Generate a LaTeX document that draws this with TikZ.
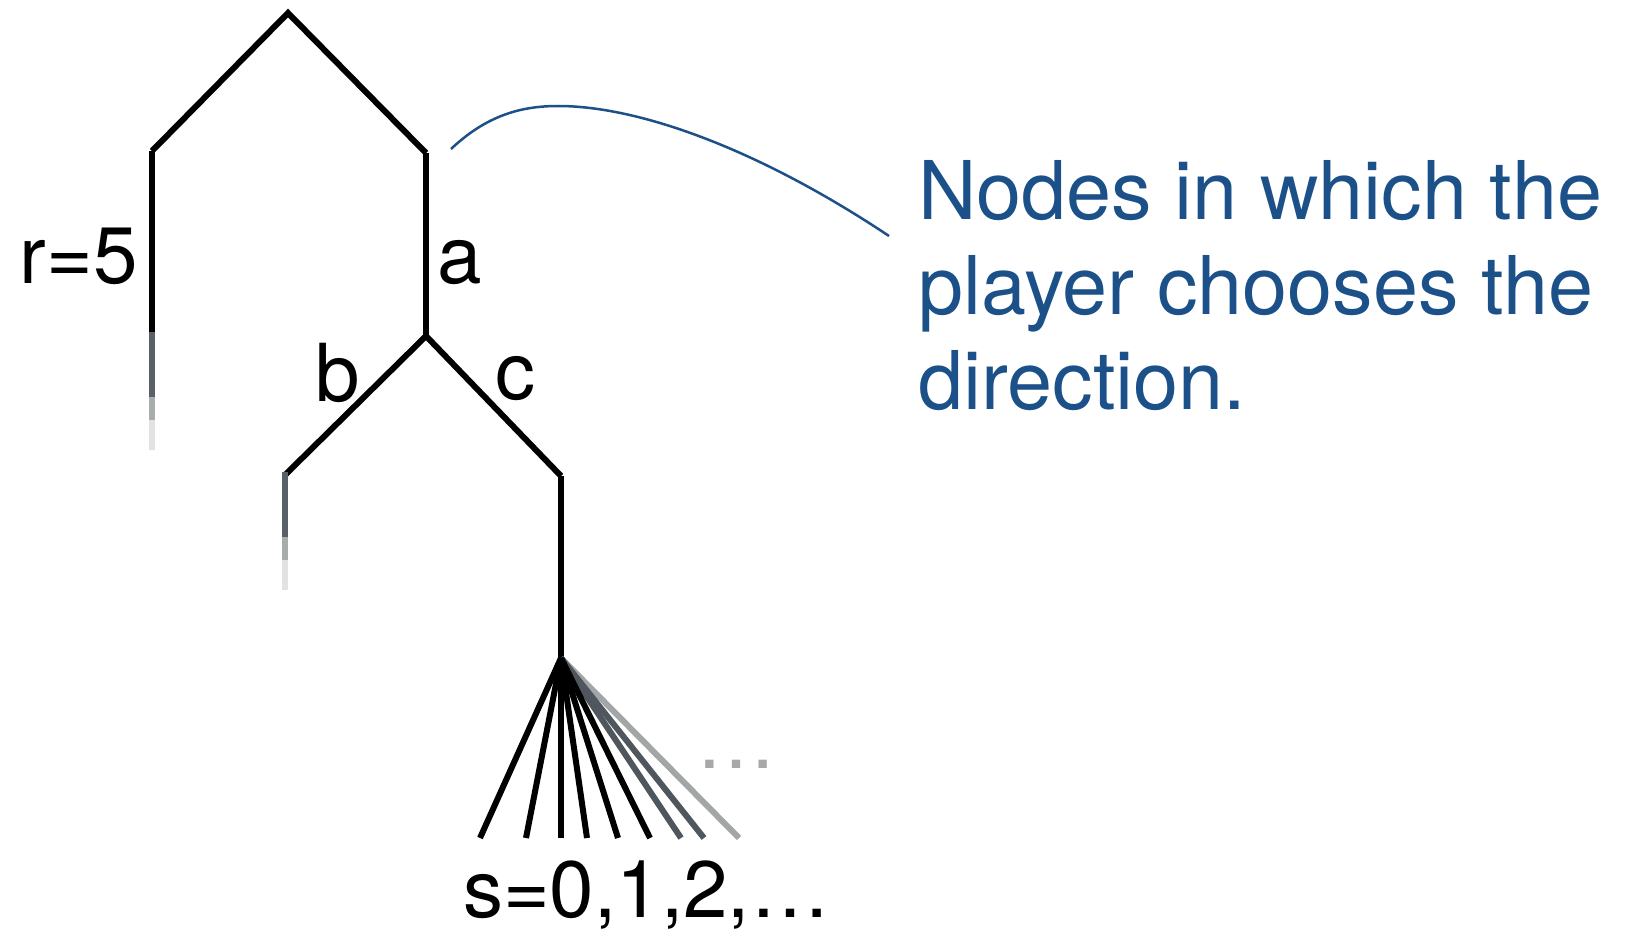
\documentclass[tikz,border=0pt]{standalone}
\usepackage{fontspec}
\setmainfont{TeX Gyre Heros}
\definecolor{callblue}{HTML}{1C5088}
\definecolor{gA}{HTML}{5A6068}
\definecolor{gB}{HTML}{A9ACAC}
\definecolor{gC}{HTML}{E1E2E2}
\definecolor{fanA}{HTML}{4F565E}
\definecolor{fanB}{HTML}{A3A6A6}
\definecolor{dotg}{HTML}{A8A8A8}
\begin{document}
\begin{tikzpicture}[x=1pt,y=-1pt,
  edge/.style={line width=6pt,black,line cap=butt,line join=miter},
  fadeA/.style={line width=6pt,gA},
  fadeB/.style={line width=6pt,gB},
  fadeC/.style={line width=6pt,gC},
  lbl/.style={inner sep=0pt,font=\fontsize{80}{95}\selectfont},
  callout/.style={line width=2.5pt,callblue}]
\useasboundingbox (0,0) rectangle (1633,936);
% tree nodes
\coordinate (R) at (288,13);
\coordinate (L) at (152,151);
\coordinate (A) at (426,153);
\coordinate (L1) at (152,332);
\coordinate (L2) at (152,397);
\coordinate (L3) at (152,420);
\coordinate (L4) at (152,450);
\coordinate (B) at (426,336);
\coordinate (Lb) at (285,475);
\coordinate (Lb1) at (285,472);
\coordinate (Lb2) at (285,537);
\coordinate (Lb3) at (285,560);
\coordinate (Lb4) at (285,590);
\coordinate (C) at (561,476);
\coordinate (F) at (561,658);
\foreach \n/\x in {1/480,2/526,3/561,4/587,5/618,6/650,7/681,8/704,9/739}
  \coordinate (f\n) at (\x,838);
% edges
\draw[edge] (L) -- (R) -- (A);
\draw[edge] (L) -- (L1);
\draw[fadeA] (L1) -- (L2);
\draw[fadeB] (L2) -- (L3);
\draw[fadeC] (L3) -- (L4);
\draw[edge] (A) -- (B);
\draw[edge] (Lb) -- (B) -- (C);
\draw[fadeA] (Lb1) -- (Lb2);
\draw[fadeB] (Lb2) -- (Lb3);
\draw[fadeC] (Lb3) -- (Lb4);
\draw[edge] (C) -- (F);
\draw[line width=6pt,fanB] (F) -- (f9);
\draw[line width=6pt,fanA] (F) -- (f8);
\draw[line width=6pt,fanA] (F) -- (f7);
\foreach \n in {1,...,6} \draw[edge] (F) -- (f\n);
% labels
\node[lbl,anchor=base east] (rl) at (138,283) {r=5};
\node[lbl,anchor=base west] (al) at (437,283) {a};
\node[lbl,anchor=base west] (bl) at (315,401) {b};
\node[lbl,anchor=base west] (cl) at (495,399) {c};
\node[lbl,anchor=base west] (sl) at (463,917) {s=0,1,2,…};
\node[lbl,anchor=base,text=dotg] (dots) at (736,768) {…};
% callout
\node[lbl,anchor=base west,text=callblue,align=left,font=\fontsize{81}{95}\selectfont] (note) at (918,409)
  {Nodes in which the\\player chooses the\\direction.};
\coordinate (cs) at (451,149);
\coordinate (cp) at (558,106);
\coordinate (ce) at (889,236);
\draw[callout] (cs) .. controls (486,116) and (520,106) .. (cp)
  .. controls (640,106) and (760,150) .. (ce);
\end{tikzpicture}
\end{document}
